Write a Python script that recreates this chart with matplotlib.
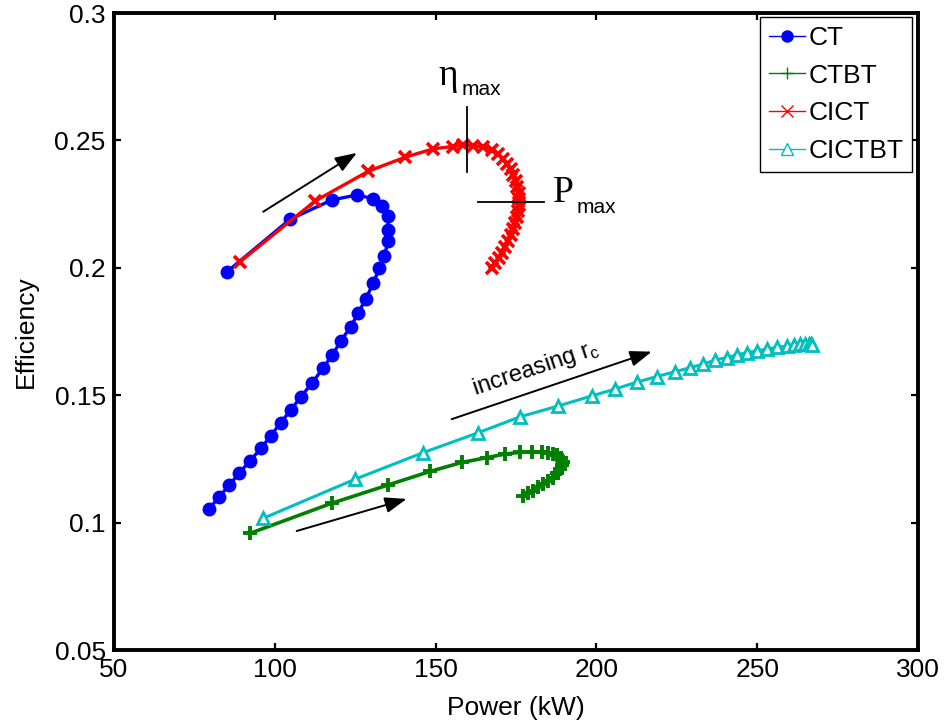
import matplotlib
matplotlib.use("Agg")
import matplotlib.pyplot as plt
from matplotlib.lines import Line2D

plt.rcParams["font.family"] = ["Liberation Sans", "DejaVu Sans"]
plt.rcParams["mathtext.fontset"] = "custom"
plt.rcParams["mathtext.rm"] = "Liberation Sans"
plt.rcParams["mathtext.it"] = "Liberation Sans"

# Efficiency vs. net power for the four cycle layouts (compressor ratio swept)
ct_power = [85.2, 104.7, 117.7, 125.5, 130.4, 133.2, 135.1, 135.3, 135.3, 134.0,
            132.5, 130.6, 128.3, 126.0, 123.6, 120.6, 117.9, 114.9, 111.5, 108.1,
            105.0, 101.8, 98.7, 95.7, 92.3, 89.0, 85.9, 82.7, 79.6]
ct_eff = [0.1985, 0.2190, 0.2266, 0.2286, 0.2272, 0.2242, 0.2203, 0.2150, 0.2104, 0.2046,
          0.1998, 0.1939, 0.1879, 0.1823, 0.1769, 0.1714, 0.1658, 0.1605, 0.1546, 0.1494,
          0.1442, 0.1392, 0.1340, 0.1292, 0.1242, 0.1196, 0.1148, 0.1102, 0.1053]

ctbt_power = [92.3, 117.7, 135.3, 148.3, 158.1, 165.9, 171.6, 176.2, 179.9, 183.0,
              185.0, 186.6, 187.8, 188.9, 189.5, 189.4, 188.7, 187.6, 186.4, 185.0,
              183.5, 181.9, 180.4, 178.8, 177.3]
ctbt_eff = [0.0958, 0.1076, 0.1148, 0.1201, 0.1236, 0.1255, 0.1269, 0.1276, 0.1278, 0.1278,
            0.1274, 0.1270, 0.1265, 0.1252, 0.1239, 0.1226, 0.1209, 0.1193, 0.1177, 0.1164,
            0.1150, 0.1138, 0.1125, 0.1115, 0.1105]

cict_power = [89.2, 112.5, 129.1, 140.5, 149.3, 155.3, 158.6, 161.7, 164.8, 167.4,
              169.5, 171.1, 172.3, 173.3, 174.2, 174.9, 175.4, 175.8, 176.0, 176.0,
              175.7, 175.3, 174.8, 174.2, 173.4, 172.6, 171.7, 170.6, 169.6, 168.5, 167.4]
cict_eff = [0.2024, 0.2262, 0.2379, 0.2434, 0.2467, 0.2476, 0.2481, 0.2479, 0.2474, 0.2462,
            0.2446, 0.2426, 0.2407, 0.2387, 0.2364, 0.2342, 0.2318, 0.2295, 0.2270, 0.2246,
            0.2223, 0.2199, 0.2175, 0.2152, 0.2128, 0.2104, 0.2081, 0.2058, 0.2037, 0.2017, 0.1998]

cictbt_power = [96.4, 124.9, 146.2, 163.3, 176.2, 188.2, 198.5, 205.8, 212.5, 218.7,
                224.4, 229.1, 233.2, 236.9, 240.5, 243.6, 246.7, 249.8, 253.0, 256.1,
                259.2, 261.5, 263.4, 264.9, 266.0, 266.7, 267.0]
cictbt_eff = [0.1017, 0.1170, 0.1275, 0.1353, 0.1415, 0.1458, 0.1497, 0.1524, 0.1551, 0.1573,
              0.1592, 0.1608, 0.1622, 0.1638, 0.1648, 0.1658, 0.1667, 0.1674, 0.1681, 0.1688,
              0.1693, 0.1697, 0.1700, 0.1701, 0.1701, 0.1700, 0.1698]

series_labels = ["CT", "CTBT", "CICT", "CICTBT"]
x_ticks = [50, 100, 150, 200, 250, 300]
y_ticks = [0.05, 0.1, 0.15, 0.2, 0.25, 0.3]
y_tick_labels = ["0.05", "0.1", "0.15", "0.2", "0.25", "0.3"]

fig = plt.figure(figsize=(9.46, 7.27), dpi=100)
ax = fig.add_axes([0.1205, 0.1059, 0.8499, 0.8762])

ax.plot(ct_power, ct_eff, color="#0000ff", lw=2.4, marker="o", ms=9,
        mec="#0000ff", mfc="#0000ff", zorder=3)
ax.plot(ctbt_power, ctbt_eff, color="#008000", lw=2.6, marker="+", ms=10,
        mew=2.8, zorder=3)
ax.plot(cict_power, cict_eff, color="#ff0000", lw=2.4, marker="x", ms=9,
        mew=2.6, zorder=4)
ax.plot(cictbt_power, cictbt_eff, color="#00bfbf", lw=2.2, marker="^", ms=8.5,
        mew=2.0, mfc="white", mec="#00bfbf", zorder=3)

ax.set_xlim(50, 300)
ax.set_ylim(0.05, 0.3)
ax.set_xticks(x_ticks)
ax.set_xticklabels([str(v) for v in x_ticks])
ax.set_yticks(y_ticks)
ax.set_yticklabels(y_tick_labels)
ax.tick_params(direction="in", length=5, width=1.6, top=True, right=True,
               labelsize=19, pad=6, colors="black")
for sp in ax.spines.values():
    sp.set_linewidth(2.8)

ax.set_xlabel("Power (kW)", fontsize=19, labelpad=10)
ax.set_ylabel("Efficiency", fontsize=19, labelpad=12)

# direction arrows along the sweep
arrow_kw = dict(arrowstyle="-|>,head_length=0.6,head_width=0.22", lw=1.4,
                color="black", mutation_scale=22, shrinkA=0, shrinkB=0)
ax.annotate("", xy=(125.5, 0.2451), xytext=(96.4, 0.2220), arrowprops=arrow_kw)
ax.annotate("", xy=(141.0, 0.1093), xytext=(106.8, 0.0967), arrowprops=arrow_kw)
ax.annotate("", xy=(217.2, 0.1671), xytext=(155.0, 0.1406), arrowprops=arrow_kw)
ax.text(162.3, 0.1501, "increasing r$_\\mathrm{c}$", fontsize=17, rotation=18.5,
        rotation_mode="anchor", ha="left", va="baseline")

# maximum-efficiency and maximum-power markers on the CICT curve
ax.plot([159.7, 159.7], [0.2377, 0.2633], color="black", lw=1.3, zorder=5)
ax.plot([163.3, 183.7], [0.2260, 0.2260], color="black", lw=1.3, zorder=5)
ax.text(150.8, 0.2717, "\u03b7", fontsize=27, family=["Liberation Serif"],
        ha="left", va="baseline")
ax.text(158.1, 0.2678, "max", fontsize=15, ha="left", va="baseline")
ax.text(186.6, 0.2259, "P", fontsize=27, family=["Liberation Serif"],
        ha="left", va="baseline")
ax.text(193.9, 0.2214, "max", fontsize=15, ha="left", va="baseline")

handles = [
    Line2D([], [], color="#0000ff", lw=1, marker="o", ms=8, mfc="#0000ff", mec="#0000ff"),
    Line2D([], [], color="#008000", lw=1, marker="+", ms=9, mew=1),
    Line2D([], [], color="#ff0000", lw=1, marker="x", ms=8, mew=1),
    Line2D([], [], color="#00bfbf", lw=1, marker="^", ms=8, mew=1, mfc="white", mec="#00bfbf"),
]
leg = ax.legend(handles, series_labels, loc="upper right",
                bbox_to_anchor=(0.9925, 0.9937), borderaxespad=0, fontsize=19,
                numpoints=1, handlelength=1.4, handletextpad=0.1,
                labelspacing=0.52, borderpad=0.335, fancybox=False, framealpha=1)
leg.get_frame().set_edgecolor("black")
leg.get_frame().set_linewidth(1.0)

fig.savefig("out.png", dpi=100)
